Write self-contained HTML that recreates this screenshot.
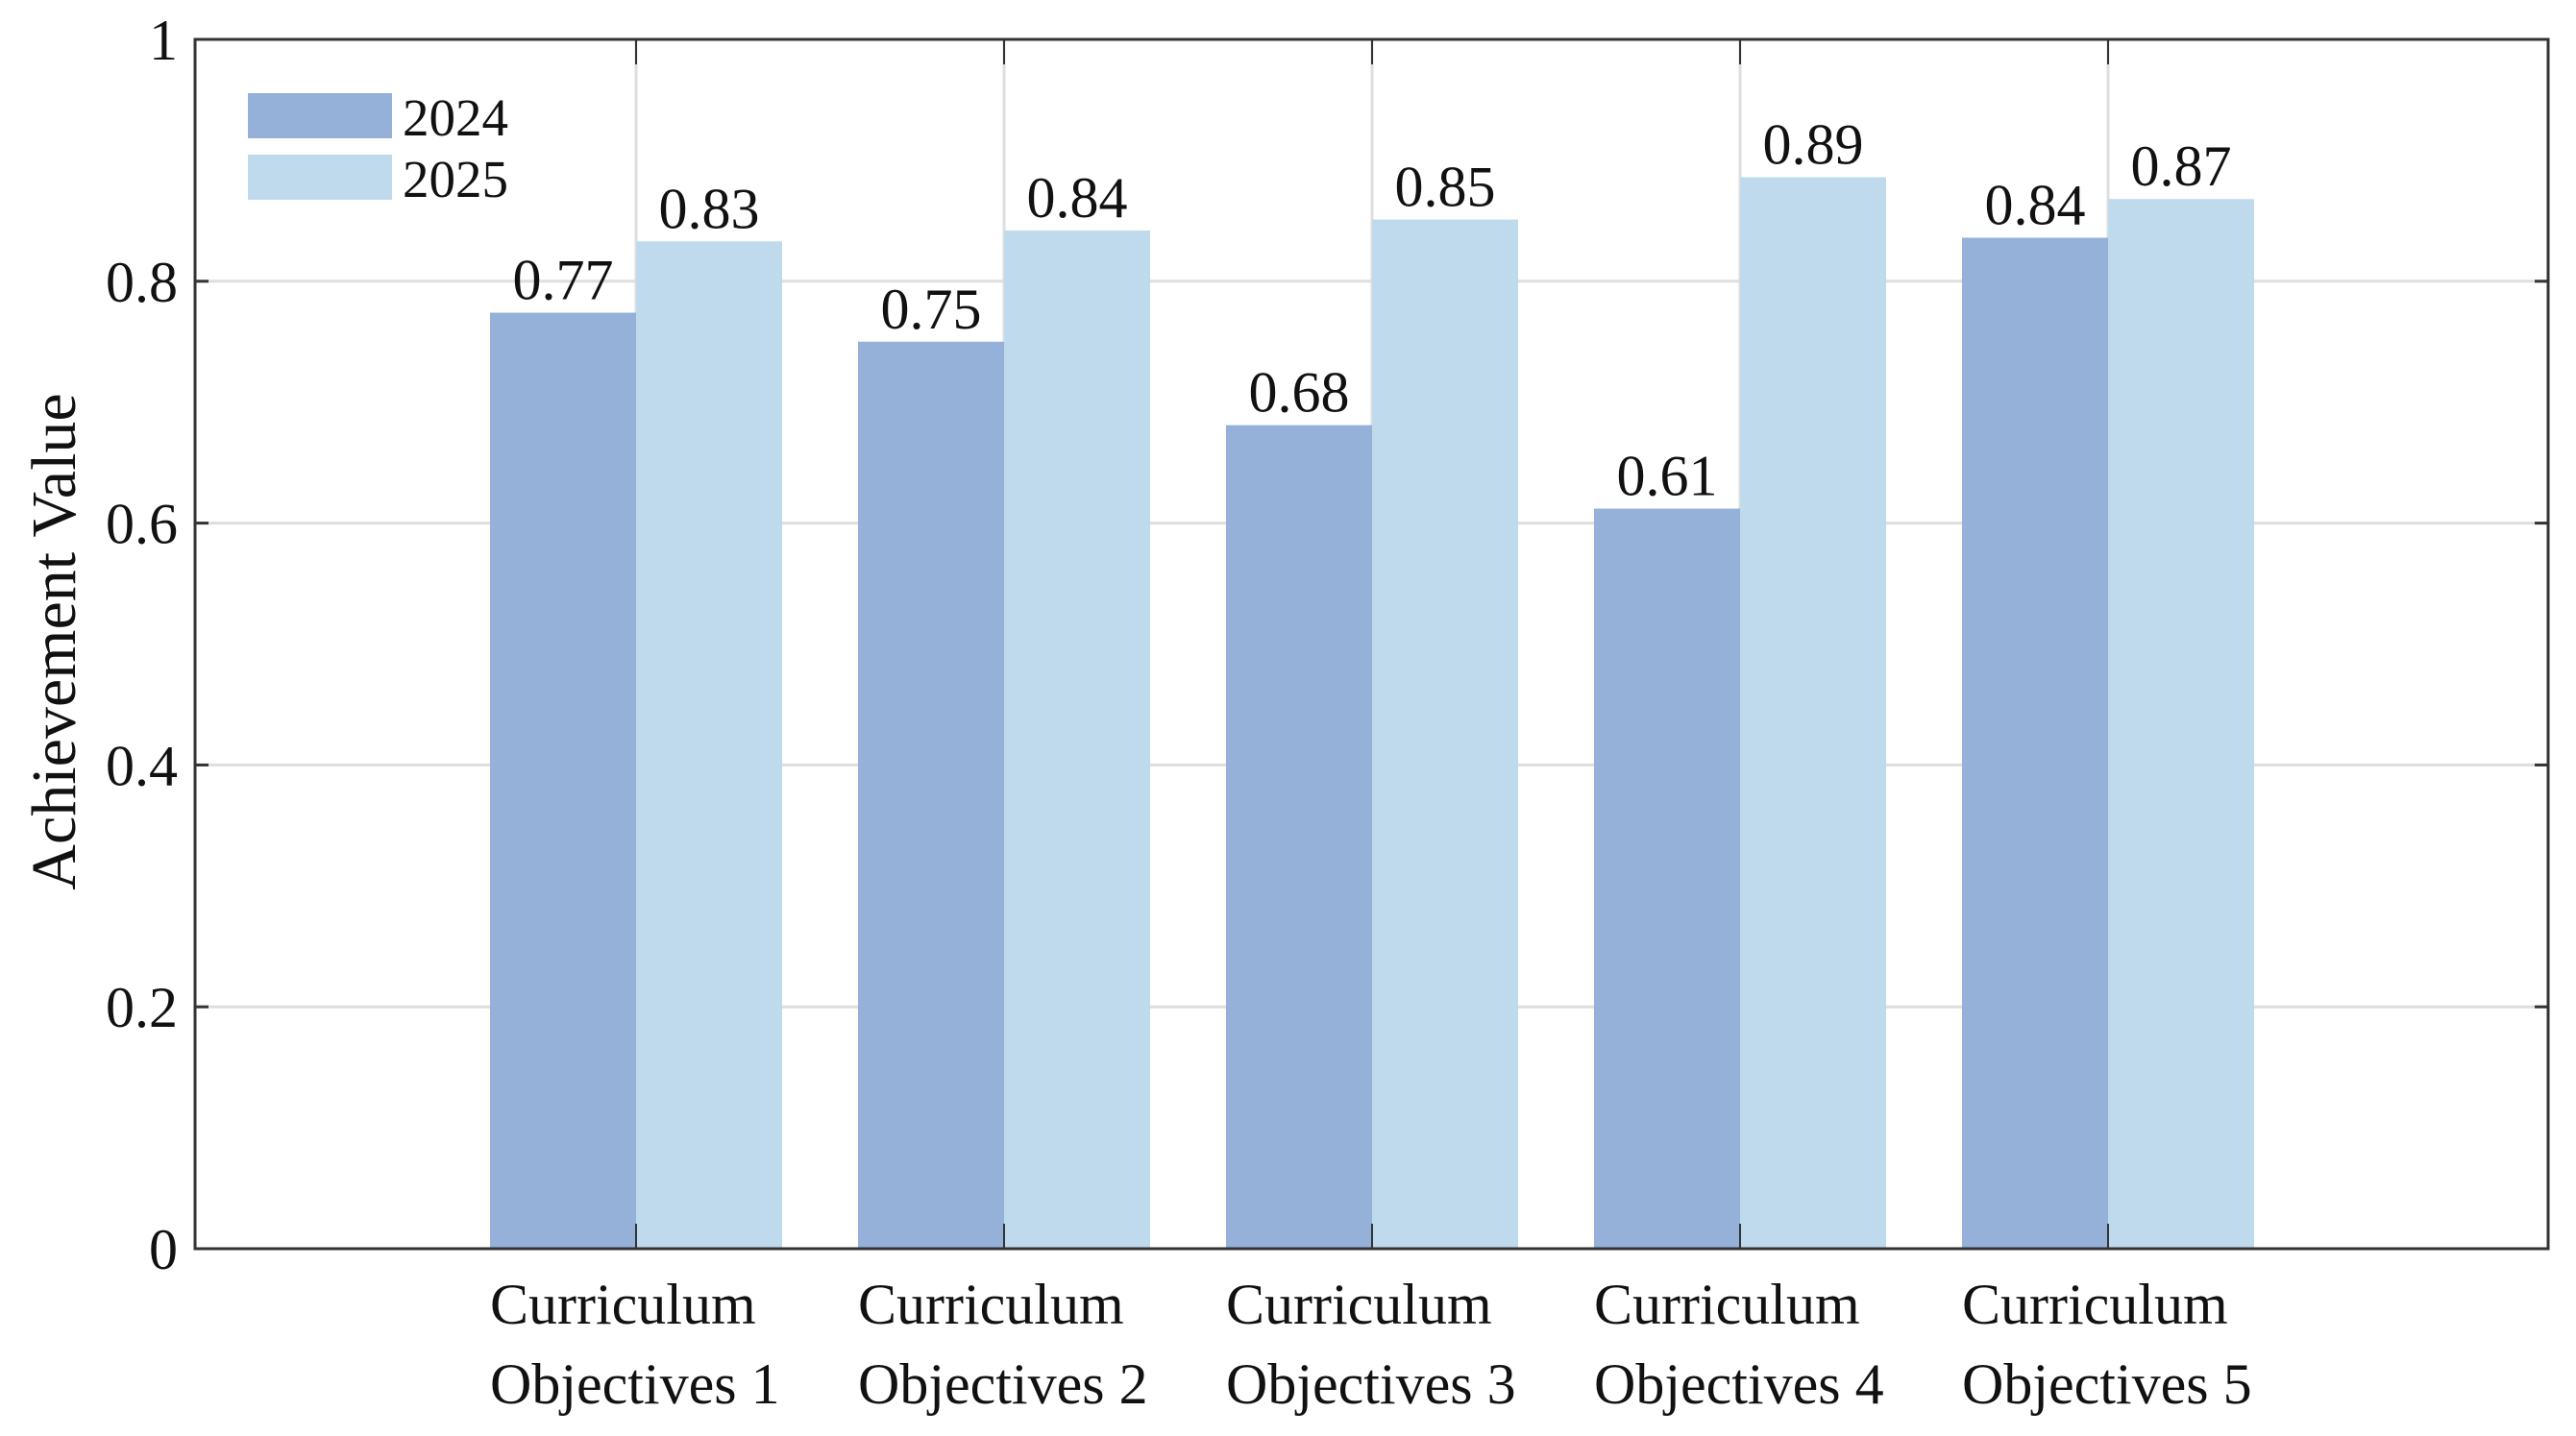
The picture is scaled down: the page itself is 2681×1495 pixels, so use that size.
<!DOCTYPE html>
<html><head><meta charset="utf-8"><style>
html,body{margin:0;padding:0;background:#fff;}
svg{display:block;font-family:"Liberation Serif",serif;}
</style></head><body>
<svg id="chart" width="2681" height="1495" viewBox="0 0 2681 1495"></svg>
<script>
const categories = ["Curriculum Objectives 1","Curriculum Objectives 2","Curriculum Objectives 3","Curriculum Objectives 4","Curriculum Objectives 5"];
const series2024 = [0.774, 0.750, 0.681, 0.612, 0.836];
const series2025 = [0.833, 0.842, 0.851, 0.886, 0.868];
const labels2024 = ["0.77","0.75","0.68","0.61","0.84"];
const labels2025 = ["0.83","0.84","0.85","0.89","0.87"];
const yTicks = [0, 0.2, 0.4, 0.6, 0.8, 1];
const yTickLabels = ["0","0.2","0.4","0.6","0.8","1"];
const seriesNames = ["2024","2025"];

const NS = "http://www.w3.org/2000/svg";
const svg = document.getElementById("chart");
const L = 203, R = 2652, T = 41, B = 1300;
const x0 = 279, step = 383, barW = 152;
function xs(i){ return x0 + (i+1)*step; }
function ys(v){ return B - v*(B-T); }
function mk(tag, attrs, parent){
  const e = document.createElementNS(NS, tag);
  for (const k in attrs) e.setAttribute(k, attrs[k]);
  (parent||svg).appendChild(e);
  return e;
}
yTicks.forEach((t,i)=>{
  if (t>0 && t<1){
    const g = mk("line",{x1:L,x2:R,y1:ys(t),y2:ys(t),stroke:"#dedede","stroke-width":3});
    
    
  }
});
categories.forEach((c,i)=>{
  const g = mk("line",{x1:xs(i),x2:xs(i),y1:T,y2:B,stroke:"#dedede","stroke-width":3});
  
  
});
const colors = ["#95b0d9","#bfdaed"];
categories.forEach((c,i)=>{
  [series2024, series2025].forEach((s,j)=>{
    const v = s[i];
    const x = j===0 ? xs(i)-barW : xs(i);
    const r = mk("rect",{x:x,y:ys(v),width:barW,height:B-ys(v),fill:colors[j]});
    
    
    const lab = [labels2024,labels2025][j][i];
    const t = mk("text",{x:x+barW/2,y:ys(v)-14,"text-anchor":"middle","font-size":60,fill:"#111"});
    t.textContent = lab;
    
    
  });
});
const box = mk("rect",{x:L,y:T,width:R-L,height:B-T,fill:"none",stroke:"#333","stroke-width":3});


yTicks.forEach((t,i)=>{
  mk("line",{x1:L,x2:L+14,y1:ys(t),y2:ys(t),stroke:"#333","stroke-width":3});
  mk("line",{x1:R-14,x2:R,y1:ys(t),y2:ys(t),stroke:"#333","stroke-width":3});
  const tx = mk("text",{x:L-18,y:ys(t)+21,"text-anchor":"end","font-size":60,fill:"#111"});
  tx.textContent = yTickLabels[i];
  
  
});
categories.forEach((c,i)=>{
  mk("line",{x1:xs(i),x2:xs(i),y1:B,y2:B-26,stroke:"#333","stroke-width":2});
  mk("line",{x1:xs(i),x2:xs(i),y1:T,y2:T+26,stroke:"#333","stroke-width":2});
  const parts = c.split(" ");
  const t1 = mk("text",{x:xs(i)-152,y:1378,"font-size":60,fill:"#111"});
  t1.textContent = parts[0];
  
  
  const t2 = mk("text",{x:xs(i)-152,y:1461,"font-size":60,fill:"#111"});
  t2.textContent = parts.slice(1).join(" ");
  
  
});
const yt = mk("text",{x:0,y:0,"text-anchor":"middle","font-size":66,fill:"#111",transform:"translate(78,668) rotate(-90)"});
yt.textContent = "Achievement Value";


seriesNames.forEach((n,j)=>{
  const y = 97 + j*64;
  const sw = mk("rect",{x:258,y:y,width:150,height:47,fill:colors[j]});
  
  
  const t = mk("text",{x:419,y:y+44,"font-size":55,fill:"#111"});
  t.textContent = n;
  
  
});
</script>
</body></html>
